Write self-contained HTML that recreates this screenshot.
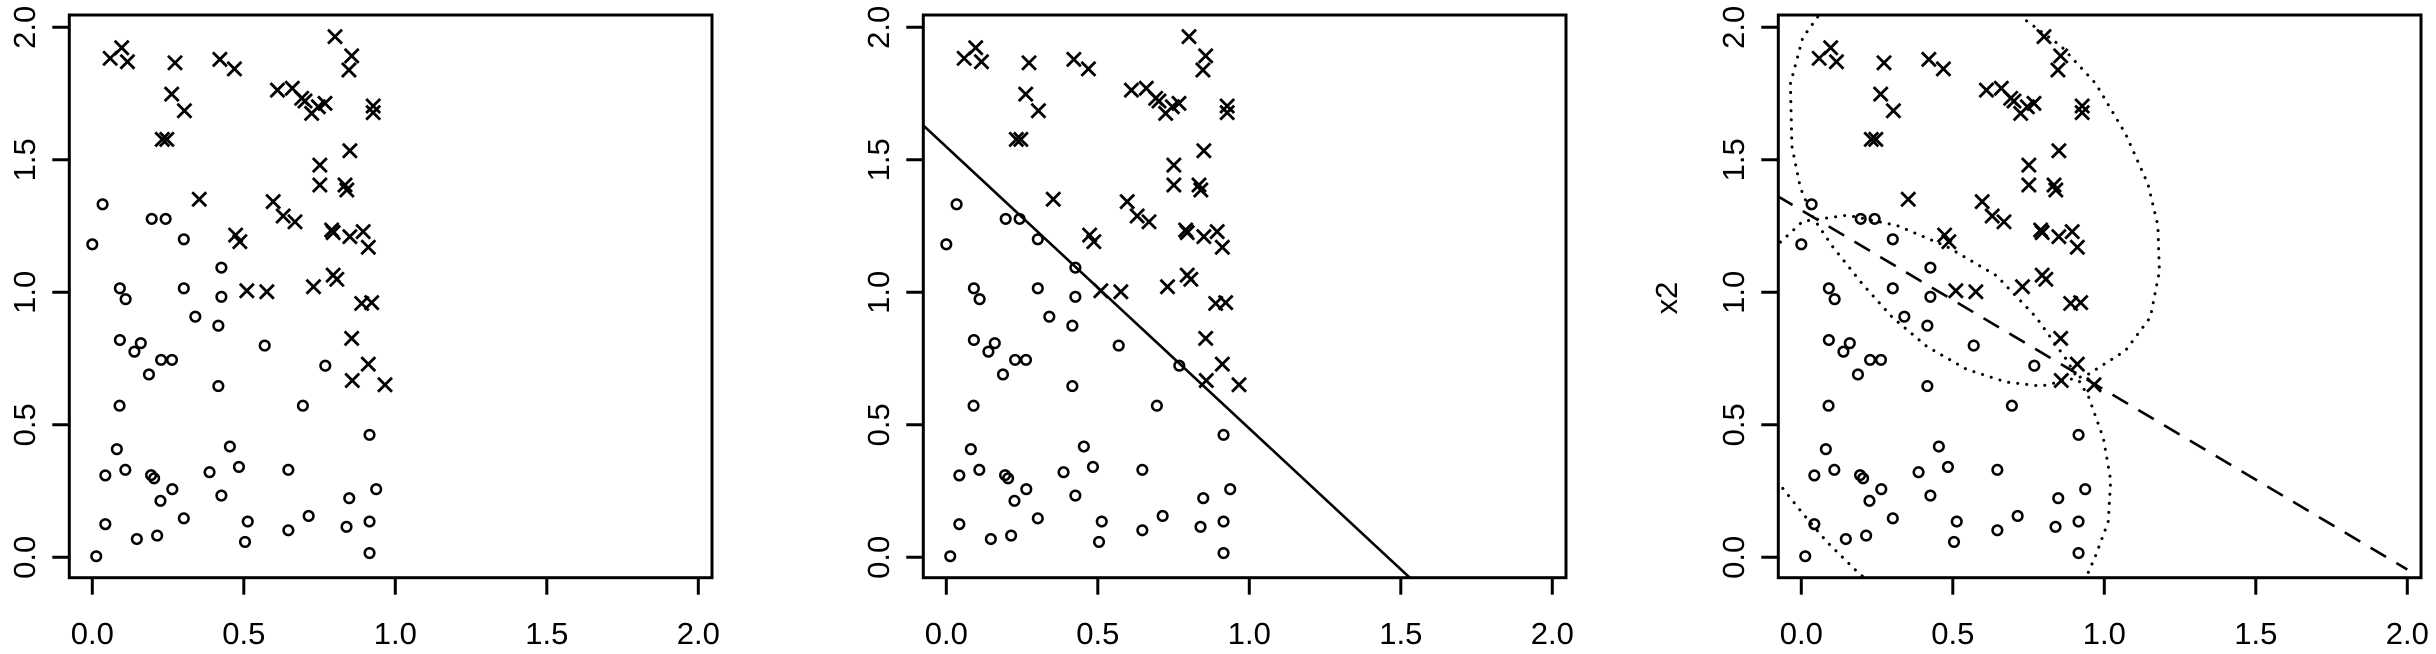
<!DOCTYPE html>
<html><head><meta charset="utf-8"><style>
html,body{margin:0;padding:0;background:#fff;overflow:hidden;width:2436px;height:654px;}
svg{display:block;font-family:"Liberation Sans",sans-serif;}
</style></head><body>
<svg id="chart" width="2436" height="654" viewBox="0 0 2436 654" xmlns="http://www.w3.org/2000/svg"></svg>
<script>
const crossX=[0.059,0.097,0.116,0.273,0.421,0.469,0.262,0.304,0.231,0.246,0.611,0.660,0.691,0.702,0.724,0.746,0.768,0.801,0.856,0.847,0.927,0.927,0.850,0.751,0.751,0.834,0.840,0.353,0.597,0.630,0.669,0.790,0.795,0.850,0.894,0.911,0.473,0.487,0.510,0.576,0.730,0.795,0.807,0.889,0.922,0.856,0.911,0.858,0.966];
const crossY=[1.883,1.923,1.870,1.866,1.879,1.843,1.748,1.685,1.577,1.577,1.763,1.770,1.732,1.722,1.675,1.700,1.713,1.965,1.892,1.839,1.703,1.678,1.534,1.480,1.405,1.405,1.386,1.351,1.342,1.288,1.266,1.235,1.225,1.210,1.229,1.170,1.216,1.191,1.006,1.002,1.021,1.065,1.049,0.958,0.961,0.826,0.729,0.667,0.651];
const circX=[0.034,0.196,0.242,0.0,0.302,0.426,0.091,0.110,0.302,0.426,0.340,0.416,0.091,0.160,0.139,0.227,0.263,0.187,0.569,0.769,0.416,0.090,0.695,0.915,0.081,0.454,0.043,0.109,0.194,0.204,0.264,0.387,0.484,0.647,0.937,0.225,0.426,0.848,0.302,0.513,0.714,0.915,0.043,0.147,0.214,0.504,0.647,0.839,0.915,0.013];
const circY=[1.332,1.277,1.277,1.181,1.200,1.093,1.015,0.974,1.015,0.983,0.908,0.874,0.820,0.808,0.776,0.745,0.745,0.690,0.799,0.723,0.646,0.572,0.572,0.462,0.408,0.418,0.309,0.330,0.310,0.298,0.257,0.321,0.341,0.330,0.257,0.213,0.233,0.223,0.147,0.135,0.156,0.135,0.125,0.069,0.082,0.058,0.102,0.115,0.016,0.004];
const ticks=[0,0.5,1,1.5,2];
const tickLabels=["0.0","0.5","1.0","1.5","2.0"];
const linearBoundary=[1.549,-1.063];
const dashedBoundary=[1.310,-0.678];
const curve1X=[0.054,0.005,-0.036,-0.031,-0.003,0.038,0.103,0.202,0.300,0.415,0.546,0.677,0.792,0.939,1.070,1.152,1.182,1.177,1.144,1.070,0.972,0.857,0.726];
const curve1Y=[2.039,1.961,1.787,1.551,1.394,1.283,1.173,1.031,0.906,0.795,0.709,0.661,0.646,0.685,0.780,0.906,1.079,1.252,1.409,1.598,1.787,1.929,2.039];
const curve2X=[-0.069,0.005,0.152,0.316,0.480,0.644,0.775,0.874,0.948,0.997,1.021,1.013,0.972,0.939];
const curve2Y=[1.189,1.268,1.291,1.252,1.173,1.063,0.906,0.748,0.606,0.449,0.291,0.134,0.008,-0.079];
const curve3X=[-0.061,0.005,0.087,0.185,0.210];
const curve3Y=[0.260,0.165,0.055,-0.055,-0.079];

const NS="http://www.w3.org/2000/svg";
const svg=document.getElementById('chart');
function mk(tag,attrs,parent){const e=document.createElementNS(NS,tag);for(const k in attrs)e.setAttribute(k,attrs[k]);parent.appendChild(e);return e;}
const offsets=[0,854,1709];
const BL=69.3,BR=712,BT=15,BB=577.7;

offsets.forEach((ox,pi)=>{
  const sx=v=>ox+92.3+v*303;
  const sy=v=>557.3-v*265;
  const g=mk('g',{},svg);
  
  
  const cp=mk('clipPath',{id:'clip'+pi},g);
  mk('rect',{x:ox+BL,y:BT,width:BR-BL,height:BB-BT},cp);
  const box=mk('rect',{x:ox+BL,y:BT,width:BR-BL,height:BB-BT,fill:'none',stroke:'#000','stroke-width':3},g);
  
  
  ticks.forEach((t,i)=>{
    const xt=mk('line',{x1:sx(t),x2:sx(t),y1:BB,y2:BB+17,stroke:'#000','stroke-width':3},g);
    
    
    const xl=mk('text',{x:sx(t),y:644,'font-size':31,'text-anchor':'middle'},g);
    xl.textContent=tickLabels[i];
    
    
    const yt=mk('line',{x1:ox+BL-17,x2:ox+BL,y1:sy(t),y2:sy(t),stroke:'#000','stroke-width':3},g);
    
    
    const yl=mk('text',{x:0,y:0,'font-size':31,'text-anchor':'middle',transform:`translate(${ox+35},${sy(t)}) rotate(-90)`},g);
    yl.textContent=tickLabels[i];
    
    
  });
  if(pi>0){
    const t=mk('text',{x:0,y:0,'font-size':31,'text-anchor':'middle',transform:`translate(${ox+823},298) rotate(-90)`},g);
    t.textContent='x2';
    
    
  }
  const pts=mk('g',{},g);
  crossX.forEach((x,i)=>{
    const cx=sx(x),cy=sy(crossY[i]),s=7;
    const p=mk('path',{d:`M${cx-s},${cy-s}L${cx+s},${cy+s}M${cx-s},${cy+s}L${cx+s},${cy-s}`,stroke:'#000','stroke-width':2.8,fill:'none'},pts);
    
    
  });
  circX.forEach((x,i)=>{
    const c=mk('circle',{cx:sx(x),cy:sy(circY[i]),r:4.8,stroke:'#000','stroke-width':2.5,fill:'none'},pts);
    
    
  });
  const lg=mk('g',{'clip-path':`url(#clip${pi})`},g);
  if(pi===1){
    const [a,b]=linearBoundary;
    const l=mk('line',{x1:sx(-0.2),y1:sy(a+b*-0.2),x2:sx(2.2),y2:sy(a+b*2.2),stroke:'#000','stroke-width':2.6},lg);
    
    
  }
  if(pi===2){
    const [a,b]=dashedBoundary;
    const l=mk('line',{x1:sx(-0.08),y1:sy(a+b*-0.08),x2:sx(2.0),y2:sy(a+b*2.0),stroke:'#000','stroke-width':2.6,'stroke-dasharray':'18 12'},lg);
    
    
    [[curve1X,curve1Y],[curve2X,curve2Y],[curve3X,curve3Y]].forEach(([xs,ys],k)=>{
      const d=xs.map((x,i)=>(i?'L':'M')+sx(x).toFixed(1)+','+sy(ys[i]).toFixed(1)).join('');
      const p=mk('path',{d:d,fill:'none',stroke:'#000','stroke-width':3,'stroke-linecap':'round','stroke-dasharray':'0.1 9'},lg);
      
      
    });
  }
});
</script>
</body></html>
